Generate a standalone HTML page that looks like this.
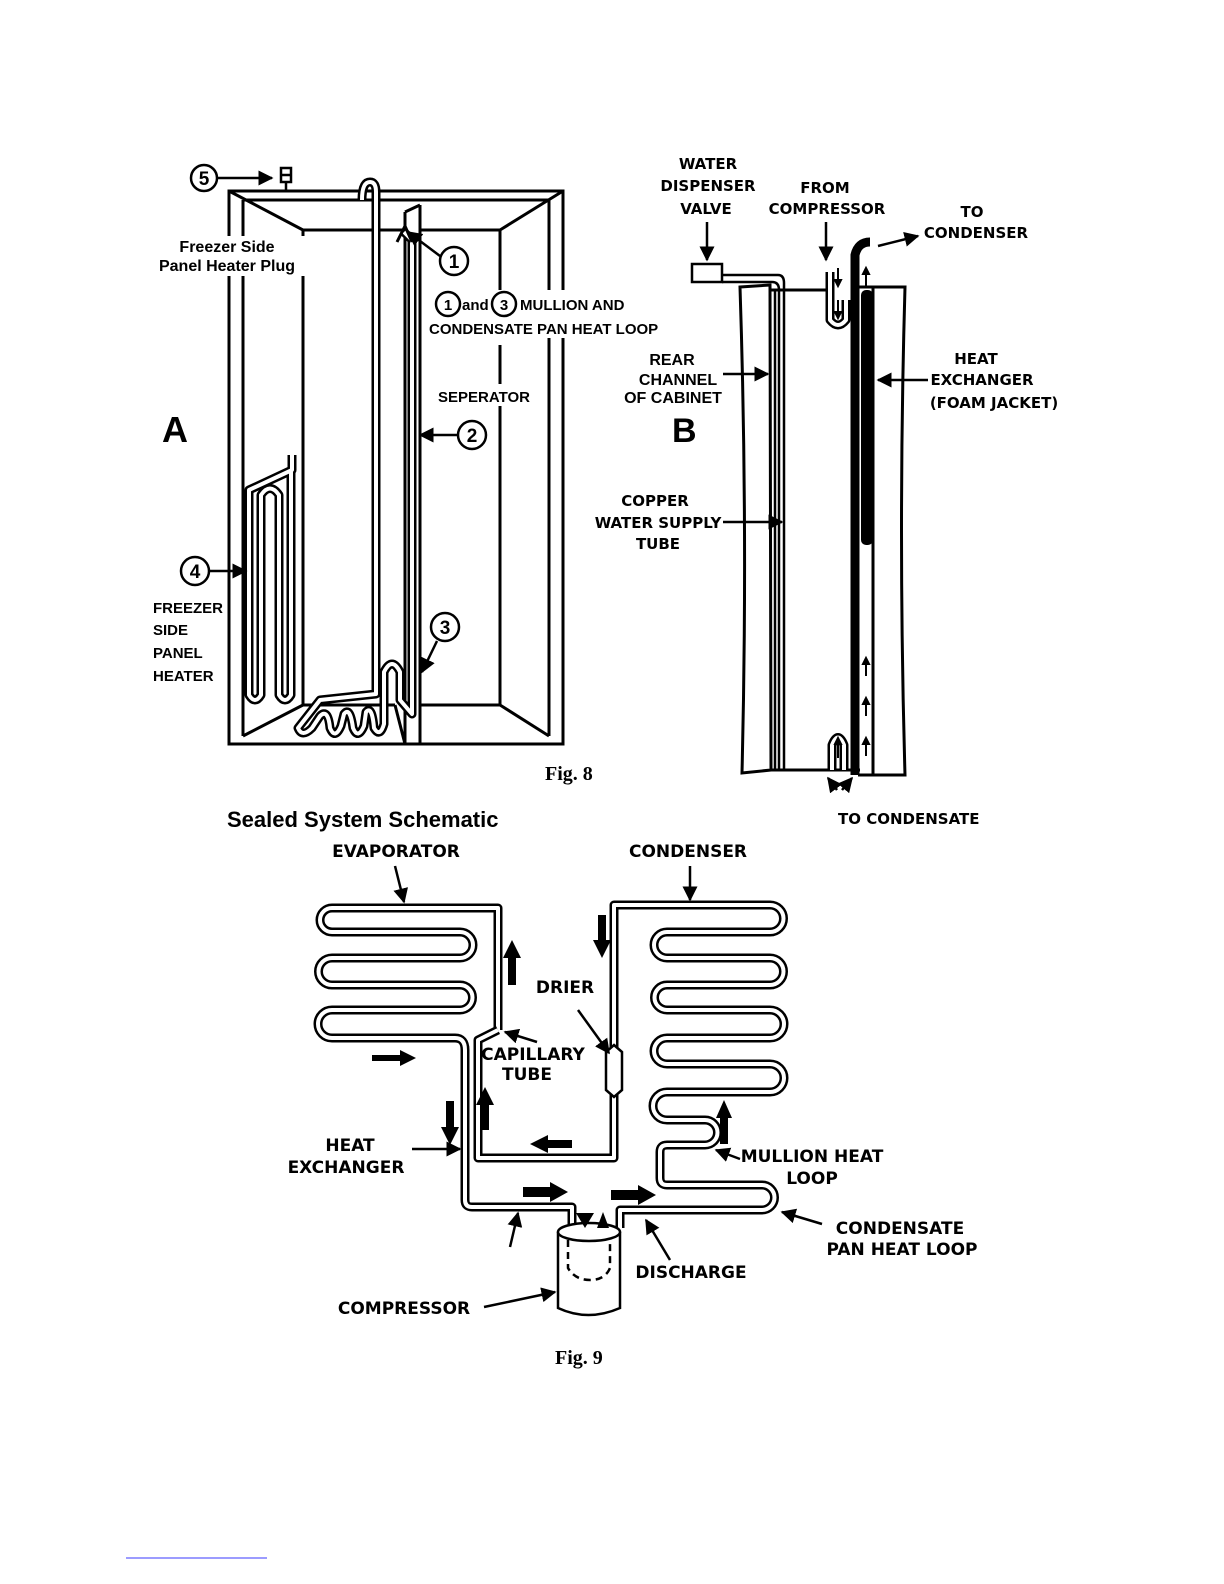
<!DOCTYPE html>
<html><head><meta charset="utf-8"><style>
html,body{margin:0;padding:0;background:#fff}
svg{display:block}
text{font-family:"Liberation Sans",sans-serif;font-weight:bold;fill:#000}
text.d{font-family:"DejaVu Sans",sans-serif}
text.s{font-family:"Liberation Serif",serif}
.t{fill:none;stroke:#000;stroke-width:9;stroke-linejoin:round}
.w{fill:none;stroke:#fff;stroke-width:4;stroke-linejoin:round}
.l{fill:none;stroke:#000;stroke-width:2.5}
.l3{fill:none;stroke:#000;stroke-width:3}
.c{fill:#fff;stroke:#000;stroke-width:2.5}
</style></head><body>
<svg width="1224" height="1584" viewBox="0 0 1224 1584" xmlns="http://www.w3.org/2000/svg">
<defs>
<marker id="ah" viewBox="0 0 10 10" refX="9" refY="5" markerWidth="6" markerHeight="6" orient="auto"><path d="M0,0 L10,5 L0,10 z" fill="#000"/></marker>
</defs>

<!-- ========== FIG A ========== -->
<g class="l3">
<rect x="229" y="191" width="334" height="553"/>
<line x1="243" y1="200" x2="243" y2="736"/>
<line x1="549" y1="200" x2="549" y2="736"/>
<line x1="243" y1="200" x2="549" y2="200"/>
<line x1="229" y1="191" x2="303" y2="230"/>
<line x1="303" y1="230" x2="405" y2="230"/>
<line x1="303" y1="230" x2="303" y2="250"/><line x1="303" y1="275" x2="303" y2="705"/>
<line x1="303" y1="705" x2="395" y2="705"/>
<line x1="243" y1="736" x2="303" y2="705"/>
<line x1="405" y1="212" x2="405" y2="744"/>
<line x1="420" y1="205" x2="420" y2="744"/>
<line x1="405" y1="212" x2="420" y2="205"/>
<line x1="420" y1="230" x2="500" y2="230"/>
<line x1="563" y1="191" x2="500" y2="230"/>
<line x1="500" y1="230" x2="500" y2="290"/><line x1="500" y1="345" x2="500" y2="385"/><line x1="500" y1="405" x2="500" y2="705"/>
<line x1="420" y1="705" x2="500" y2="705"/>
<line x1="500" y1="705" x2="549" y2="736"/>
<line x1="395" y1="705" x2="405" y2="744"/>
</g>
<path class="t" d="M362,200 Q362,182 370,182 Q376,182 376,192 L376,694 L320,700 L298,728 Q302,738 312,728 L320,716 Q328,708 330,728 Q335,740 341,726 L344,714 Q350,706 353,728 Q358,740 364,726 L366,712 Q372,705 374,728 Q380,738 384,724 L384,672 Q392,656 400,672 L400,700 L412,714 L412,240 L404,232"/>
<path class="w" d="M362,200 Q362,182 370,182 Q376,182 376,192 L376,694 L320,700 L298,728 Q302,738 312,728 L320,716 Q328,708 330,728 Q335,740 341,726 L344,714 Q350,706 353,728 Q358,740 364,726 L366,712 Q372,705 374,728 Q380,738 384,724 L384,672 Q392,656 400,672 L400,700 L412,714 L412,240 L404,232"/>
<path class="l3" d="M397,242 L405,226 L412,242"/>
<path class="t" d="M292,455 L292,470 L249,490 L249,695 Q255,705 261,695 L261,495 Q270,482 279,495 L279,695 Q285,705 291,695 L291,470"/>
<path class="w" d="M292,455 L292,470 L249,490 L249,695 Q255,705 261,695 L261,495 Q270,482 279,495 L279,695 Q285,705 291,695 L291,470"/>
<circle class="c" cx="204" cy="178" r="13"/><text x="204" y="185" font-size="19" text-anchor="middle">5</text>
<line class="l" x1="218" y1="178" x2="272" y2="178" marker-end="url(#ah)"/>
<rect class="c" x="281" y="168" width="10" height="14"/><line class="l" x1="281" y1="175" x2="291" y2="175"/><line class="l" x1="286" y1="182" x2="286" y2="190"/>
<rect x="150" y="236" width="162" height="40" fill="#fff"/>
<text x="227" y="252" font-size="16" text-anchor="middle">Freezer Side</text>
<text x="227" y="271" font-size="16" text-anchor="middle">Panel Heater Plug</text>
<circle class="c" cx="454" cy="261" r="14"/><text x="454" y="268" font-size="19" text-anchor="middle">1</text>
<line class="l" x1="440" y1="256" x2="408" y2="232" marker-end="url(#ah)"/>
<rect x="428" y="290" width="255" height="48" fill="#fff"/>
<circle class="c" cx="448" cy="304" r="12"/><text x="448" y="310" font-size="15" text-anchor="middle">1</text>
<text x="462" y="310" font-size="15">and</text>
<circle class="c" cx="504" cy="304" r="12"/><text x="504" y="310" font-size="15" text-anchor="middle">3</text>
<text x="520" y="310" font-size="15">MULLION AND</text>
<text x="429" y="334" font-size="15">CONDENSATE PAN HEAT LOOP</text>
<rect x="436" y="384" width="106" height="22" fill="#fff"/>
<text x="438" y="402" font-size="15">SEPERATOR</text>
<text x="162" y="442" font-size="36">A</text>
<circle class="c" cx="472" cy="435" r="14"/><text x="472" y="442" font-size="19" text-anchor="middle">2</text>
<line class="l" x1="458" y1="435" x2="420" y2="435" marker-end="url(#ah)"/>
<circle class="c" cx="195" cy="571" r="14"/><text x="195" y="578" font-size="19" text-anchor="middle">4</text>
<line class="l" x1="210" y1="571" x2="246" y2="571" marker-end="url(#ah)"/>
<text x="153" y="613" font-size="15">FREEZER</text>
<text x="153" y="635" font-size="15">SIDE</text>
<text x="153" y="658" font-size="15">PANEL</text>
<text x="153" y="681" font-size="15">HEATER</text>
<circle class="c" cx="445" cy="627" r="14"/><text x="445" y="634" font-size="19" text-anchor="middle">3</text>
<line class="l" x1="437" y1="641" x2="422" y2="672" marker-end="url(#ah)"/>
<text class="s" x="545" y="780" font-size="20" style="font-family:'Liberation Serif',serif">Fig. 8</text>

<!-- ========== FIG B ========== -->
<g class="l3">
<path d="M740,287 L770,285 L771,770 L742,773 Q748,530 740,287 z"/>
<path d="M858,287 L905,287 Q898,530 905,775 L858,775"/>
<line x1="873" y1="287" x2="873" y2="775"/>
<line x1="770" y1="770" x2="860" y2="770"/>
<line x1="770" y1="290" x2="832" y2="290"/>
</g>
<line class="l" x1="775" y1="290" x2="775" y2="770"/>
<path class="l" d="M722,275 L778,275 Q784,275 784,283 L784,770"/>
<path class="l" d="M722,282 L772,282 Q779,282 779,290 L779,770"/>
<rect class="c" x="692" y="264" width="30" height="18"/>
<rect x="861" y="290" width="12" height="255" rx="5" fill="#000"/>
<path class="t" d="M830,272 L830,320 Q838,330 846,320 L846,300"/>
<path class="w" d="M830,272 L830,320 Q838,330 846,320 L846,300"/>
<path class="t" d="M855,775 L855,300 L855,255 Q858,242 870,242"/>
<path class="t" d="M832,770 L832,745 Q838,730 844,745 L844,770" stroke-width="6"/>
<path class="w" d="M832,770 L832,745 Q838,730 844,745 L844,770" stroke-width="2"/>
<g style="font-family:'DejaVu Sans',sans-serif">
<text class="d" x="708" y="169" font-size="15" text-anchor="middle">WATER</text>
<text class="d" x="708" y="191" font-size="15" text-anchor="middle">DISPENSER</text>
<text class="d" x="706" y="214" font-size="15" text-anchor="middle">VALVE</text>
<text class="d" x="825" y="193" font-size="15" text-anchor="middle">FROM</text>
<text class="d" x="827" y="214" font-size="15" text-anchor="middle">COMPRESSOR</text>
<text class="d" x="972" y="217" font-size="15" text-anchor="middle">TO</text>
<text class="d" x="976" y="238" font-size="15" text-anchor="middle">CONDENSER</text>
<text class="d" x="976" y="364" font-size="15" text-anchor="middle">HEAT</text>
<text class="d" x="982" y="385" font-size="15" text-anchor="middle">EXCHANGER</text>
<text class="d" x="994" y="408" font-size="15" text-anchor="middle">(FOAM JACKET)</text>
<text class="d" x="655" y="506" font-size="15" text-anchor="middle">COPPER</text>
<text class="d" x="658" y="528" font-size="15" text-anchor="middle">WATER SUPPLY</text>
<text class="d" x="658" y="549" font-size="15" text-anchor="middle">TUBE</text>
<text class="d" x="838" y="824" font-size="15">TO CONDENSATE</text>
</g>
<line class="l" x1="707" y1="222" x2="707" y2="260" marker-end="url(#ah)"/>
<line class="l" x1="826" y1="222" x2="826" y2="260" marker-end="url(#ah)"/>
<line class="l" x1="878" y1="246" x2="918" y2="236" marker-end="url(#ah)"/>
<text x="672" y="365" font-size="16" text-anchor="middle">REAR</text>
<text x="678" y="385" font-size="16" text-anchor="middle">CHANNEL</text>
<text x="673" y="403" font-size="16" text-anchor="middle">OF CABINET</text>
<line class="l" x1="723" y1="374" x2="768" y2="374" marker-end="url(#ah)"/>
<text x="672" y="442" font-size="34">B</text>
<line class="l" x1="928" y1="380" x2="878" y2="380" marker-end="url(#ah)"/>
<line class="l" x1="723" y1="522" x2="782" y2="522" marker-end="url(#ah)"/>
<g stroke="#000" stroke-width="2" fill="#000">
<line x1="838" y1="268" x2="838" y2="282"/><path d="M835,280 L838,286 L841,280z"/>
<line x1="838" y1="300" x2="838" y2="314"/><path d="M835,312 L838,318 L841,312z"/>
<line x1="866" y1="272" x2="866" y2="286"/><path d="M863,274 L866,268 L869,274z"/>
<line x1="866" y1="662" x2="866" y2="676"/><path d="M863,664 L866,658 L869,664z"/>
<line x1="866" y1="702" x2="866" y2="716"/><path d="M863,704 L866,698 L869,704z"/>
<line x1="866" y1="742" x2="866" y2="756"/><path d="M863,744 L866,738 L869,744z"/>
<line x1="838" y1="742" x2="838" y2="758"/><path d="M835,744 L838,738 L841,744z"/>
</g>
<line class="l" x1="837" y1="790" x2="828" y2="778" marker-end="url(#ah)"/>
<line class="l" x1="842" y1="790" x2="852" y2="778" marker-end="url(#ah)"/>

<!-- ========== FIG 9 ========== -->
<text x="227" y="827" font-size="22">Sealed System Schematic</text>
<path class="t" d="M498,1030 L498,908 L332,908 A12,12 0 0 0 332,932 L460,932 A13,13 0 0 1 460,958 L332,958 A13.5,13.5 0 0 0 332,985 L460,985 A12.5,12.5 0 0 1 460,1010 L332,1010 A14,14 0 0 0 332,1038 L455,1038 Q465,1038 465,1050 L465,1200 Q465,1207 472,1207 L572,1207 L572,1228"/>
<path class="w" d="M498,1030 L498,908 L332,908 A12,12 0 0 0 332,932 L460,932 A13,13 0 0 1 460,958 L332,958 A13.5,13.5 0 0 0 332,985 L460,985 A12.5,12.5 0 0 1 460,1010 L332,1010 A14,14 0 0 0 332,1038 L455,1038 Q465,1038 465,1050 L465,1200 Q465,1207 472,1207 L572,1207 L572,1228"/>
<path class="t" d="M498,1030 L478,1040 L478,1158 L614,1158 L614,905 L770,905 A13,13 0 0 1 770,932 L667,932 A13,13 0 0 0 667,958 L770,958 A13.5,13.5 0 0 1 770,985 L667,985 A12.5,12.5 0 0 0 667,1010 L770,1010 A14,14 0 0 1 770,1038 L667,1038 A13,13 0 0 0 667,1064 L770,1064 A14,14 0 0 1 770,1092 L667,1092 A13,13 0 0 0 667,1120 L705,1120 A12.5,12.5 0 0 1 705,1145 L667,1145 Q660,1145 660,1152 L660,1178 Q660,1185 667,1185 L762,1185 A12.5,12.5 0 0 1 762,1210 L620,1210 L620,1228"/>
<path class="w" d="M498,1030 L478,1040 L478,1158 L614,1158 L614,905 L770,905 A13,13 0 0 1 770,932 L667,932 A13,13 0 0 0 667,958 L770,958 A13.5,13.5 0 0 1 770,985 L667,985 A12.5,12.5 0 0 0 667,1010 L770,1010 A14,14 0 0 1 770,1038 L667,1038 A13,13 0 0 0 667,1064 L770,1064 A14,14 0 0 1 770,1092 L667,1092 A13,13 0 0 0 667,1120 L705,1120 A12.5,12.5 0 0 1 705,1145 L667,1145 Q660,1145 660,1152 L660,1178 Q660,1185 667,1185 L762,1185 A12.5,12.5 0 0 1 762,1210 L620,1210 L620,1228"/>
<path class="c" d="M614,1045 L622,1052 L622,1090 L614,1097 L606,1090 L606,1052 z"/>
<path class="c" d="M558,1232 L558,1308 Q588,1322 620,1308 L620,1232"/>
<ellipse class="c" cx="589" cy="1232" rx="31" ry="9"/>
<path d="M568,1240 L568,1268 Q575,1280 590,1280 Q605,1280 610,1268 L610,1240" fill="none" stroke="#000" stroke-width="2.5" stroke-dasharray="7,5"/>
<g fill="#000">
<path d="M508,985 L508,958 L503,958 L512,940 L521,958 L516,958 L516,985z"/>
<path d="M598,915 L598,940 L593,940 L602,958 L611,940 L606,940 L606,915z"/>
<path d="M372,1055 L400,1055 L400,1050 L416,1058 L400,1066 L400,1061 L372,1061z"/>
<path d="M446,1101 L446,1127 L441,1127 L450,1145 L459,1127 L454,1127 L454,1101z"/>
<path d="M481,1130 L481,1105 L476,1105 L485,1087 L494,1105 L489,1105 L489,1130z"/>
<path d="M572,1140 L548,1140 L548,1135 L530,1144 L548,1153 L548,1148 L572,1148z"/>
<path d="M523,1187 L550,1187 L550,1182 L568,1192 L550,1202 L550,1197 L523,1197z"/>
<path d="M611,1190 L638,1190 L638,1185 L656,1195 L638,1205 L638,1200 L611,1200z"/>
<path d="M720,1144 L720,1118 L716,1118 L724,1100 L732,1118 L728,1118 L728,1144z"/>
<path d="M582,1213 L576,1213 L585,1228 L594,1213 L588,1213z"/>
<path d="M597,1228 L603,1212 L609,1228z"/>
</g>
<g style="font-family:'DejaVu Sans',sans-serif">
<text class="d" x="396" y="857" font-size="17" text-anchor="middle">EVAPORATOR</text>
<text class="d" x="688" y="857" font-size="17" text-anchor="middle">CONDENSER</text>
<text class="d" x="565" y="993" font-size="17" text-anchor="middle">DRIER</text>
<text class="d" x="533" y="1060" font-size="17" text-anchor="middle">CAPILLARY</text>
<text class="d" x="527" y="1080" font-size="17" text-anchor="middle">TUBE</text>
<text class="d" x="350" y="1151" font-size="17" text-anchor="middle">HEAT</text>
<text class="d" x="346" y="1173" font-size="17" text-anchor="middle">EXCHANGER</text>
<text class="d" x="812" y="1162" font-size="17" text-anchor="middle">MULLION HEAT</text>
<text class="d" x="812" y="1184" font-size="17" text-anchor="middle">LOOP</text>
<text class="d" x="900" y="1234" font-size="17" text-anchor="middle">CONDENSATE</text>
<text class="d" x="902" y="1255" font-size="17" text-anchor="middle">PAN HEAT LOOP</text>
<text class="d" x="691" y="1278" font-size="17" text-anchor="middle">DISCHARGE</text>
<text class="d" x="404" y="1314" font-size="17" text-anchor="middle">COMPRESSOR</text>
</g>
<line class="l" x1="395" y1="866" x2="404" y2="902" marker-end="url(#ah)"/>
<line class="l" x1="690" y1="866" x2="690" y2="900" marker-end="url(#ah)"/>
<line class="l" x1="578" y1="1010" x2="609" y2="1053" marker-end="url(#ah)"/>
<line class="l" x1="537" y1="1042" x2="505" y2="1032" marker-end="url(#ah)"/>
<line class="l" x1="412" y1="1149" x2="460" y2="1149" marker-end="url(#ah)"/>
<line class="l" x1="510" y1="1247" x2="518" y2="1213" marker-end="url(#ah)"/>
<line class="l" x1="740" y1="1159" x2="716" y2="1150" marker-end="url(#ah)"/>
<line class="l" x1="822" y1="1224" x2="782" y2="1212" marker-end="url(#ah)"/>
<line class="l" x1="670" y1="1260" x2="646" y2="1220" marker-end="url(#ah)"/>
<line class="l" x1="484" y1="1307" x2="555" y2="1292" marker-end="url(#ah)"/>
<text class="s" x="555" y="1364" font-size="20" style="font-family:'Liberation Serif',serif">Fig. 9</text>

<line x1="126" y1="1558" x2="267" y2="1558" stroke="#3a3aff" stroke-width="1"/>
</svg>
</body></html>
